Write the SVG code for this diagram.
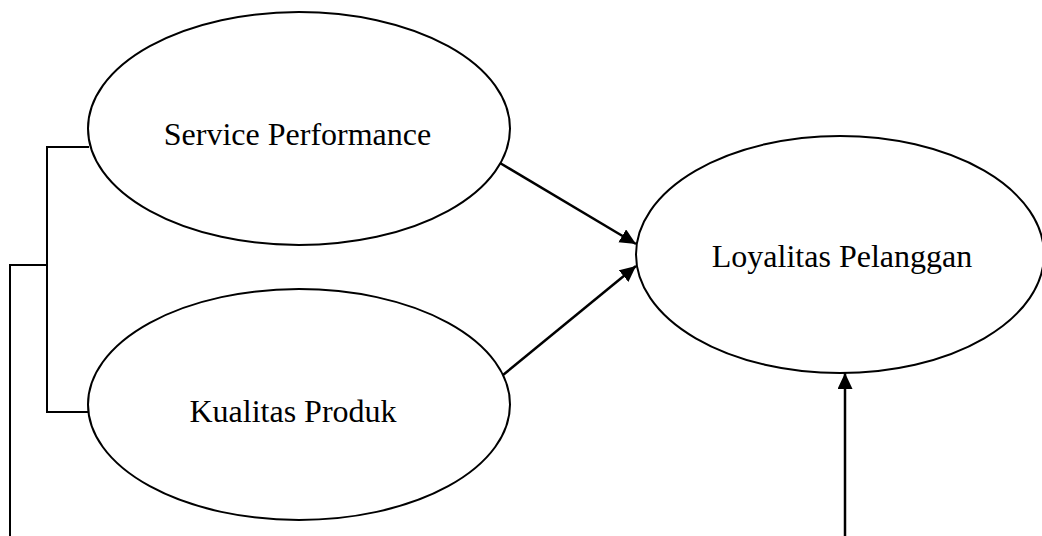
<svg xmlns="http://www.w3.org/2000/svg" width="1042" height="536" viewBox="0 0 1042 536">
<style>
.node ellipse{fill:#fff;stroke:#000;stroke-width:2}
.label{font-family:"Liberation Serif","Times New Roman",serif;fill:#000;text-anchor:middle;font-size:32px}
.conn line,.conn polyline{stroke:#000;fill:none}
.bracket{stroke-width:2}
.arrow{stroke-width:2.5}
</style>
<defs>
<marker id="ah" markerUnits="userSpaceOnUse" markerWidth="18" markerHeight="16" refX="16" refY="7.5" orient="auto">
<path d="M0,0 L16,7.5 L0,15 Z" fill="#000"/>
</marker>
</defs>
<rect width="1042" height="536" fill="#fff"/>
<g id="n-service" class="node">
<ellipse cx="299" cy="128.5" rx="211" ry="116.5"/>
<text class="label" x="297.5" y="145">Service Performance</text>
</g>
<g id="n-kualitas" class="node">
<ellipse cx="299" cy="404.5" rx="211" ry="115.5"/>
<text class="label" x="293" y="422">Kualitas Produk</text>
</g>
<g id="n-loyalitas" class="node">
<ellipse cx="840" cy="254.5" rx="204" ry="118.5"/>
<text class="label" x="842" y="267">Loyalitas Pelanggan</text>
</g>
<g id="connectors" class="conn">
<polyline class="bracket" points="89,147 47,147 47,412 89,412"/>
<polyline class="bracket" points="47,265 10,265 10,536"/>
<line class="arrow" x1="500" y1="163" x2="636" y2="244" marker-end="url(#ah)"/>
<line class="arrow" x1="503" y1="375" x2="636" y2="266" marker-end="url(#ah)"/>
<line class="arrow" x1="845" y1="536" x2="845" y2="373" marker-end="url(#ah)"/>
</g>
</svg>
